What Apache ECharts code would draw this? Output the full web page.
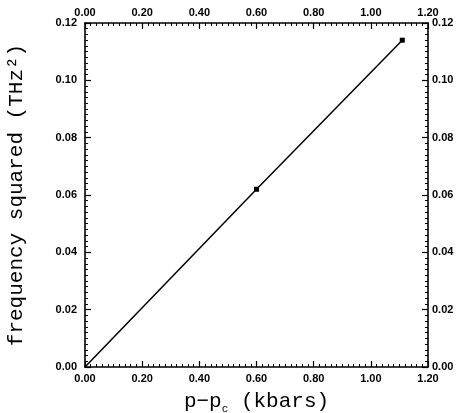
<!DOCTYPE html>
<html>
<head>
<meta charset="utf-8">
<script src="https://cdn.jsdelivr.net/npm/echarts@6/dist/echarts.min.js"></script>
<style>html,body{margin:0;padding:0;background:#fff}#c{width:461px;height:413px}</style>
</head>
<body>
<div id="c"></div>
<script>
var pressure = [0.00, 0.60, 1.11];
var freqSq = [0.000, 0.062, 0.114];
var xTicks = ['0.00','0.20','0.40','0.60','0.80','1.00','1.20'];
var yTicks = ['0.00','0.02','0.04','0.06','0.08','0.10','0.12'];

var chart = echarts.init(document.getElementById('c'));
var labelFont = {color:'#000', fontFamily:'Liberation Sans, Arial, sans-serif', fontSize:11, fontWeight:'bold'};
var titleFont = 'Liberation Mono, Courier New, monospace';
function xAxisCfg(pos){
  return {
    type:'value', position:pos, min:0, max:1.2, interval:0.2,
    axisLine:{show:true, onZero:false, lineStyle:{color:'#000', width:1.6}},
    axisTick:{show:true, inside:true, length:6, lineStyle:{color:'#000', width:1.2}},
    minorTick:{show:true, splitNumber:10, length:3, lineStyle:{color:'#000', width:1}},
    splitLine:{show:false},
    axisLabel:Object.assign({margin:pos==='top'?5:6, formatter:function(v){return xTicks[Math.round(v/0.2)];}}, labelFont)
  };
}
function yAxisCfg(pos){
  return {
    type:'value', position:pos, min:0, max:0.12, interval:0.02,
    axisLine:{show:true, onZero:false, lineStyle:{color:'#000', width:1.6}},
    axisTick:{show:true, inside:true, length:6, lineStyle:{color:'#000', width:1.2}},
    minorTick:{show:true, splitNumber:10, length:3, lineStyle:{color:'#000', width:1}},
    splitLine:{show:false},
    axisLabel:Object.assign({margin:pos==='left'?8:4, formatter:function(v){return yTicks[Math.round(v/0.02)];}}, labelFont)
  };
}
var xa = [xAxisCfg('bottom'), xAxisCfg('top')];
xa[0].name = 'p\u2212p{s|c} (kbars)';
xa[0].nameLocation = 'middle';
xa[0].nameGap = 24;
xa[0].nameTextStyle = {color:'#000', fontFamily:titleFont, fontSize:21, rich:{s:{fontFamily:titleFont, fontSize:11, color:'#000', verticalAlign:'bottom', padding:[0,0,-3,0]}}};
var ya = [yAxisCfg('left'), yAxisCfg('right')];
ya[0].name = 'frequency squared (THz\u00b2)';
ya[0].nameLocation = 'middle';
ya[0].nameGap = 58;
ya[0].nameTextStyle = {color:'#000', fontFamily:titleFont, fontSize:21};

var data = pressure.map(function(p,i){
  var d = {value:[p, freqSq[i]]};
  if(i===0) d.symbolSize = 0;
  return d;
});
chart.setOption({
  animation:false,
  backgroundColor:'#fff',
  grid:{left:85, right:33, top:23, bottom:46, containLabel:false, outerBoundsMode:'none'},
  xAxis:xa,
  yAxis:ya,
  series:[{
    type:'line', xAxisIndex:0, yAxisIndex:0, data:data,
    symbol:'rect', symbolSize:5, showSymbol:true,
    itemStyle:{color:'#000'},
    lineStyle:{color:'#000', width:1.5}
  }]
});
</script>
</body>
</html>
